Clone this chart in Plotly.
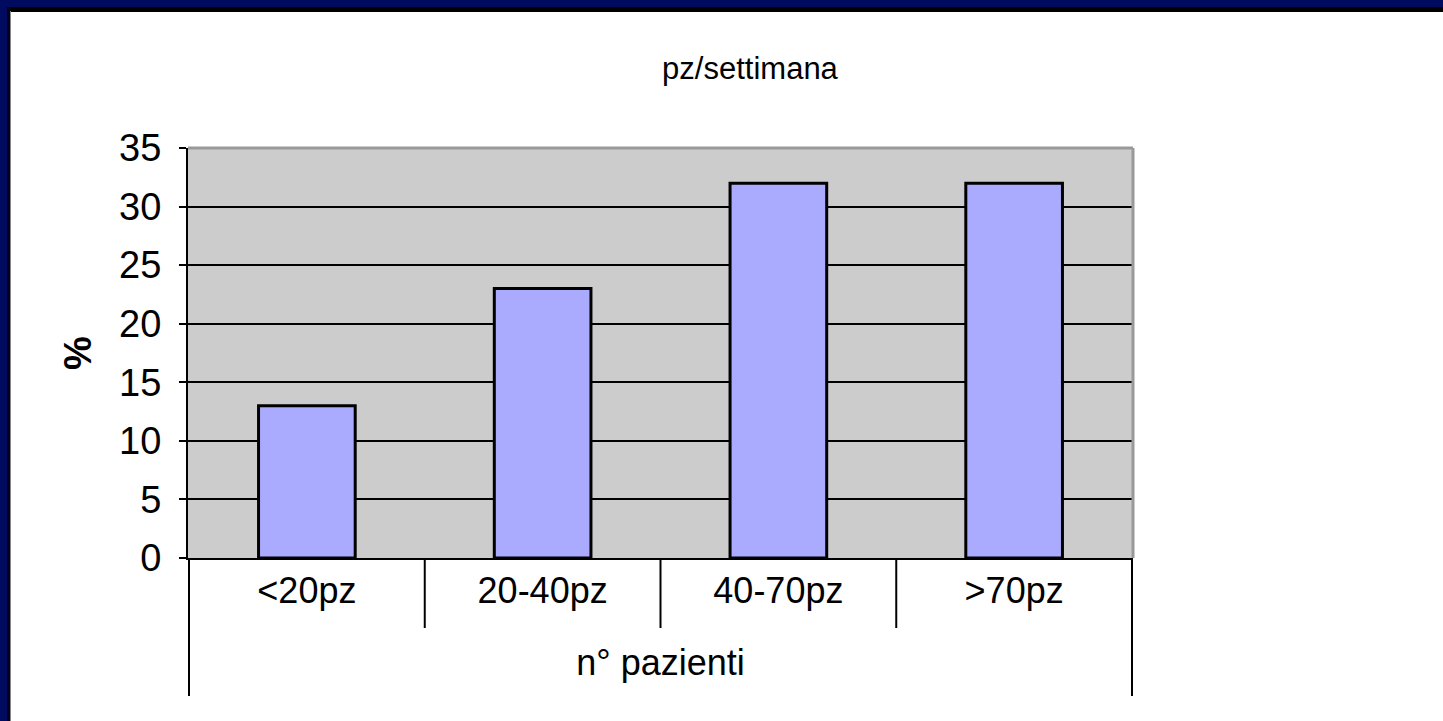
import plotly.graph_objects as go

categories = ["<20pz", "20-40pz", "40-70pz", ">70pz"]
values = [13, 23, 32, 32]
y_ticks = [0, 5, 10, 15, 20, 25, 30, 35]

W, H = 1443, 721
L, R, T, B = 188, 1133, 148, 558  # plot area in pixels

def px(x):
    return (x - L) / (R - L)

def py(y):
    return (B - y) / (B - T)

FONT = "Arial, Liberation Sans, sans-serif"

fig = go.Figure(go.Bar(
    x=categories, y=values,
    marker=dict(color="#aaaaff", line=dict(color="black", width=3)),
    width=0.41,
))

shapes = []
n = len(categories)
# category separators below the axis
for i in range(n + 1):
    long = i == 0 or i == n
    shapes.append(dict(type="line", xref="x", yref="paper",
                       x0=i - 0.5, x1=i - 0.5, y0=0, y1=py(696 if long else 628),
                       line=dict(color="black", width=2)))
# plot area top / right border (gray)
shapes.append(dict(type="line", xref="paper", yref="paper", x0=0, x1=1, y0=1, y1=1,
                   line=dict(color="#999999", width=3)))
shapes.append(dict(type="line", xref="paper", yref="paper", x0=1, x1=1, y0=0, y1=1,
                   line=dict(color="#999999", width=3)))
# slide frame (top and left)
shapes.append(dict(type="rect", xref="paper", yref="paper", x0=px(0), x1=px(W), y0=py(0), y1=py(8),
                   fillcolor="#000a5e", line=dict(width=0), layer="above"))
shapes.append(dict(type="rect", xref="paper", yref="paper", x0=px(0), x1=px(W), y0=py(7), y1=py(12),
                   fillcolor="black", line=dict(width=0), layer="above"))
shapes.append(dict(type="rect", xref="paper", yref="paper", x0=px(0), x1=px(8), y0=py(0), y1=py(H),
                   fillcolor="#000a5e", line=dict(width=0), layer="above"))
shapes.append(dict(type="rect", xref="paper", yref="paper", x0=px(7), x1=px(10), y0=py(7), y1=py(H),
                   fillcolor="#020220", line=dict(width=0), layer="above"))
shapes.append(dict(type="rect", xref="paper", yref="paper", x0=px(10), x1=px(11), y0=py(11), y1=py(H),
                   fillcolor="#888888", line=dict(width=0), layer="above"))

fig.update_layout(
    width=W, height=H,
    margin=dict(l=L, r=W - R, t=T, b=H - B, autoexpand=False),
    paper_bgcolor="white", plot_bgcolor="#cccccc",
    font=dict(family=FONT, color="black"),
    showlegend=False,
    bargap=0.59,
    shapes=shapes,
    title=dict(text="pz/settimana", xref="paper", x=px(750), xanchor="center",
               yref="container", y=1 - 68 / H, yanchor="middle",
               font=dict(size=31, family=FONT)),
)
fig.update_yaxes(
    range=[0, 35], tickvals=y_ticks, ticktext=[str(v) for v in y_ticks],
    showgrid=True, gridcolor="black", gridwidth=2, zeroline=False,
    showline=True, linecolor="black", linewidth=2,
    ticks="outside", ticklen=7, tickwidth=2, tickcolor="black",
    tickfont=dict(size=38, family=FONT), ticklabelstandoff=10,
    title=dict(text="<b>%</b>", font=dict(size=38, family=FONT), standoff=16),
)
fig.update_xaxes(
    showline=True, linecolor="black", linewidth=2, ticks="", showgrid=False,
    tickfont=dict(size=36, family=FONT), ticklabelstandoff=0,
    title=dict(text="n° pazienti", font=dict(size=36, family=FONT), standoff=40),
)

fig.write_html("out.html", config={"displayModeBar": False},
               post_script="document.body.style.margin='0';document.body.style.overflow='hidden';")
